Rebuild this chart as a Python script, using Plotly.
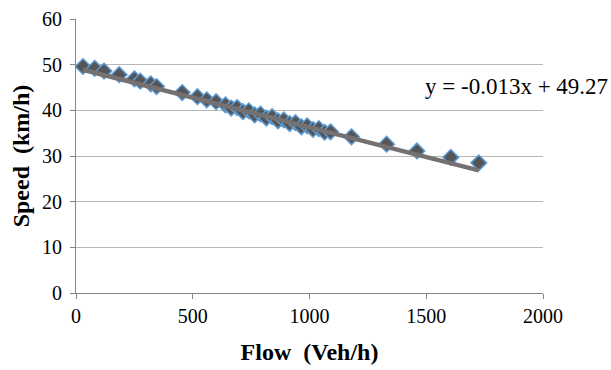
import plotly.graph_objects as go

flow = [30, 80, 120, 185, 250, 275, 320, 345, 455, 520, 560, 600, 640, 665, 690,
        715, 740, 765, 790, 815, 840, 865, 890, 915, 940, 965, 990, 1015, 1040,
        1065, 1090, 1180, 1330, 1460, 1605, 1725]
speed = [49.6, 49.2, 48.6, 47.8, 46.9, 46.4, 45.8, 45.2, 43.9, 43.0, 42.3, 41.9,
         41.2, 40.5, 40.6, 39.7, 39.9, 39.0, 39.2, 38.3, 38.6, 37.7, 37.9, 37.1,
         37.3, 36.4, 36.6, 35.8, 36.0, 35.2, 35.3, 34.2, 32.6, 31.1, 29.7, 28.5]

slope = -0.013
intercept = 49.27
equation_text = "y = -0.013x + 49.27"

x_ticks = [0, 500, 1000, 1500, 2000]
y_ticks = [0, 10, 20, 30, 40, 50, 60]

trend_x = [min(flow), max(flow)]
trend_y = [slope * v + intercept for v in trend_x]

FONT = "Liberation Serif, Times New Roman, serif"

fig = go.Figure()
fig.add_trace(go.Scatter(
    x=flow, y=speed, mode="markers",
    marker=dict(symbol="diamond", size=12, color="#555555",
                line=dict(color="#5b9bd5", width=1.5)),
    showlegend=False,
))
fig.add_trace(go.Scatter(
    x=trend_x, y=trend_y, mode="lines",
    line=dict(color="#757171", width=4.5),
    showlegend=False,
))

fig.add_annotation(
    xref="paper", yref="paper", x=1.143, y=0.755,
    xanchor="right", yanchor="middle",
    text=equation_text, showarrow=False,
    font=dict(family=FONT, size=23, color="black"),
)

fig.update_layout(
    width=611, height=370,
    margin=dict(l=76, r=68, t=19, b=77),
    paper_bgcolor="white", plot_bgcolor="white",
    font=dict(family=FONT, size=20, color="black"),
    xaxis=dict(
        range=[0, 2000], tickvals=x_ticks, showgrid=False,
        showline=True, linecolor="#868686", linewidth=1,
        ticks="outside", tickcolor="#868686", ticklen=5,
        tickfont=dict(family=FONT, size=20),
        title=dict(text="<b>Flow  (Veh/h)</b>", font=dict(family=FONT, size=24),
                   standoff=17),
        zeroline=False, automargin=False,
    ),
    yaxis=dict(
        range=[0, 60], tickvals=y_ticks, showgrid=True, gridcolor="#b7b7b7",
        gridwidth=1,
        showline=True, linecolor="#868686", linewidth=1,
        ticks="outside", tickcolor="#868686", ticklen=5,
        ticklabelstandoff=4,
        tickfont=dict(family=FONT, size=20),
        title=dict(text="<b>Speed  (km/h)</b>", font=dict(family=FONT, size=24),
                   standoff=5),
        zeroline=False, automargin=False,
    ),
)

fig.write_html("out.html")
